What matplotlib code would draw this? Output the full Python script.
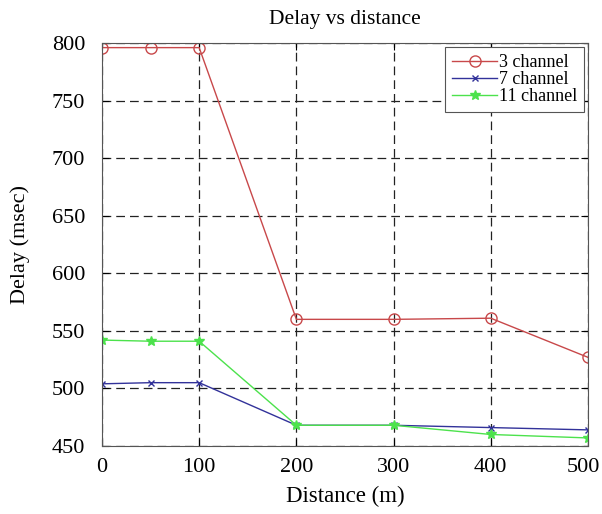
import matplotlib.pyplot as plt
import matplotlib.transforms as mtransforms

# data
distance = [0, 50, 100, 200, 300, 400, 500]
ch3 = [796, 796, 796, 560, 560, 561, 527]
ch7 = [504, 505, 505, 468, 468, 466, 464]
ch11 = [542, 541, 541, 468, 468, 460, 457]

plt.rcParams['font.family'] = ['Liberation Serif', 'DejaVu Serif']

fig = plt.figure(figsize=(6.02, 5.14), dpi=100)
ax = fig.add_axes([0.1694, 0.1323, 0.8073, 0.784])

ax.plot(distance, ch3, color='#c8484a', lw=1, marker='o', ms=8, mfc='none', label='3 channel')
ax.plot(distance, ch7, color='#32329a', lw=1, marker='x', ms=5, label='7 channel')
ax.plot(distance, ch11, color='#4ce24c', lw=1, marker='*', ms=7, label='11 channel')

ax.set_xlim(0, 500)
ax.set_ylim(450, 800)
ax.set_xticks(range(0, 501, 100))
ax.set_yticks(range(450, 801, 50))
ax.grid(True, color='#222222', linestyle=(0, (7, 4)), lw=0.9)
ax.tick_params(direction='in', top=True, right=True, labelsize=16, length=5)
ax.tick_params(axis='y', pad=12)
ax.tick_params(axis='x', pad=9)
for s in ax.spines.values():
    s.set_color('#555555')

# nudge the last x tick label left so it stays inside the figure
last = ax.get_xticklabels()[-1]
last.set_transform(last.get_transform() + mtransforms.ScaledTranslation(-0.05, 0, fig.dpi_scale_trans))

ax.set_title('Delay vs distance', fontsize=15.5, pad=14)
ax.set_xlabel('Distance (m)', fontsize=16.5, labelpad=6)
ax.set_ylabel('Delay (msec)', fontsize=16, labelpad=16)
leg = ax.legend(loc='upper right', fontsize=13, fancybox=False, framealpha=1,
                edgecolor='#555555', borderpad=0.4, labelspacing=0.0,
                handlelength=2.5, handletextpad=0.1, borderaxespad=0.2)
leg.get_frame().set_linewidth(0.8)

fig.savefig('out.png', dpi=100)
